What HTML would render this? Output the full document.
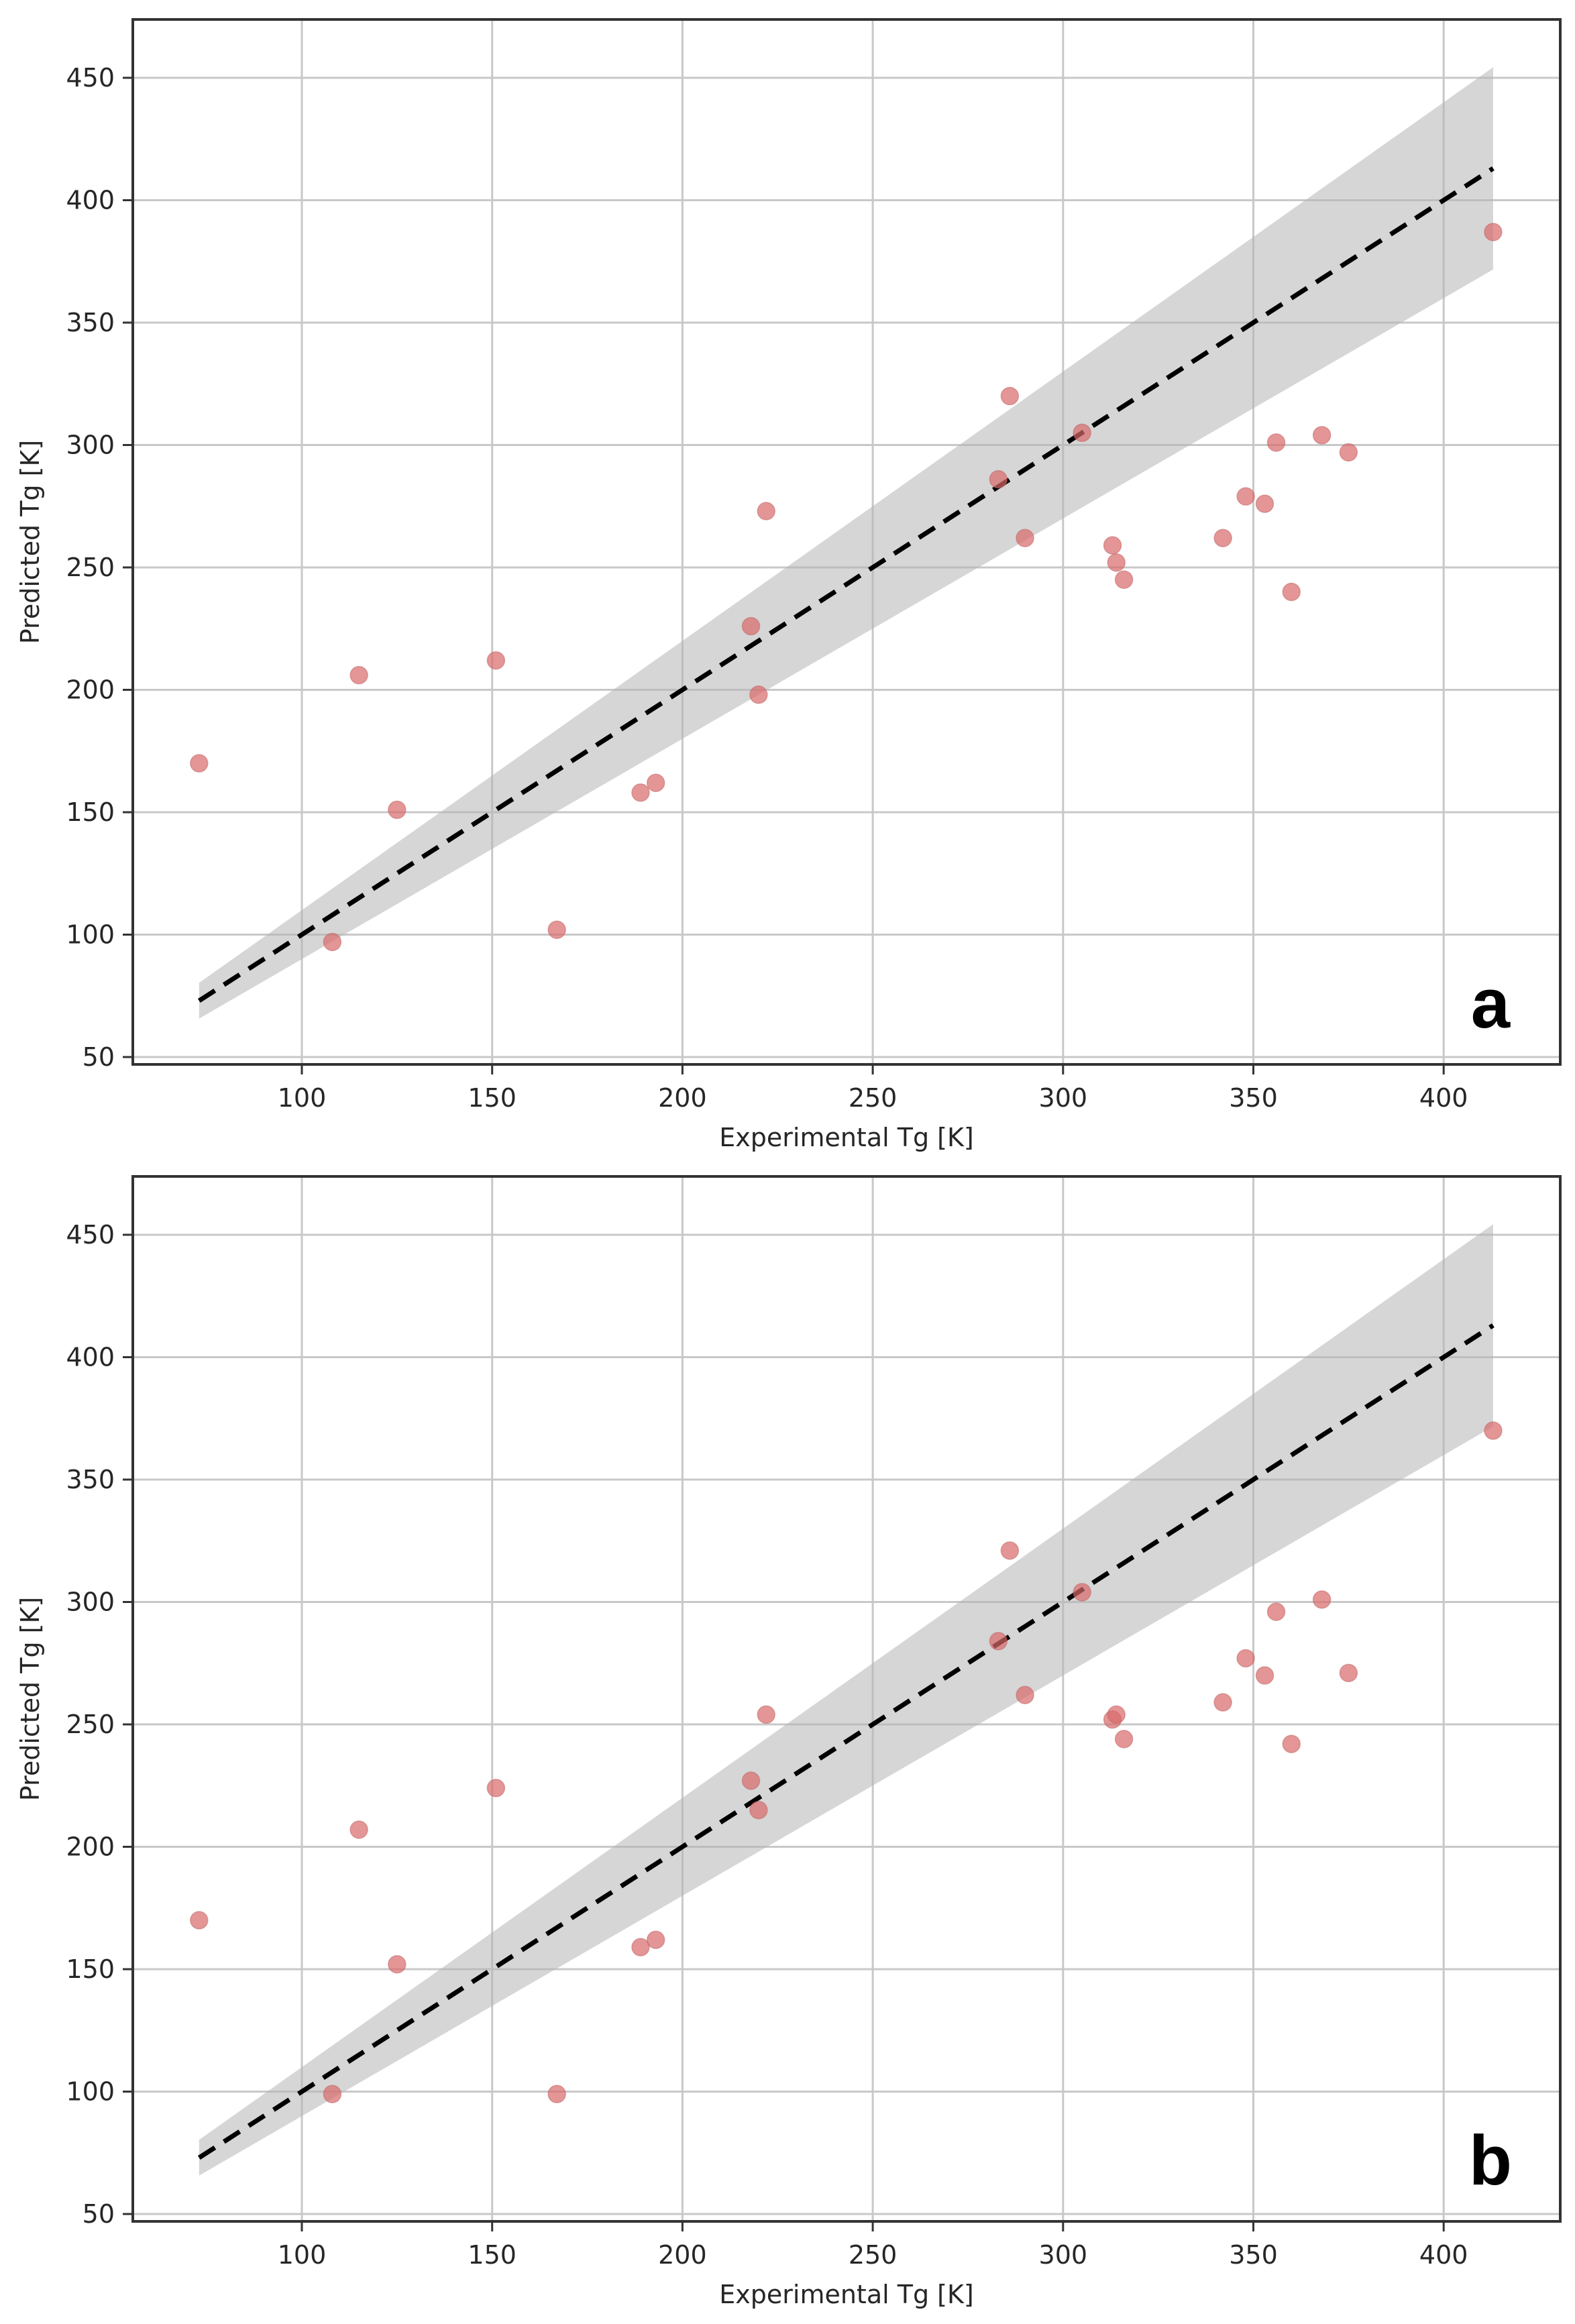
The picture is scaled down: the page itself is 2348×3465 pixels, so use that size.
<!DOCTYPE html>
<html><head><meta charset="utf-8"><style>
html,body{margin:0;padding:0;background:#fff;}
svg{display:block;font-family:"DejaVu Sans","Liberation Sans",sans-serif;}
</style></head><body>
<svg id="fig" width="2348" height="3465" viewBox="0 0 2348 3465" xmlns="http://www.w3.org/2000/svg"></svg>
<script>
const expTg = [73,108,115,125,151,167,189,193,218,220,222,283,286,290,305,313,314,316,342,348,353,356,360,368,375,413];
const predA = [170,97,206,151,212,102,158,162,226,198,273,286,320,262,305,259,252,245,262,279,276,301,240,304,297,387];
const predB = [170,99,207,152,224,99,159,162,227,215,254,284,321,262,304,252,254,244,259,277,270,296,242,301,271,370];
const xTicks = [100,150,200,250,300,350,400];
const yTicks = [50,100,150,200,250,300,350,400,450];
const lineRange = [73,413];
const bandFrac = [0.9,1.1];

const NS="http://www.w3.org/2000/svg";
const svg=document.getElementById('fig');
function mk(tag,attrs,parent){const e=document.createElementNS(NS,tag);for(const k in attrs)e.setAttribute(k,attrs[k]);(parent||svg).appendChild(e);return e;}

function panel(top,preds,letter,name){
  const L=198,R=2326,T=top,B=top+1558;
  const xs=v=>450+(v-100)*5.674;
  const ys=v=>T+87+(450-v)*3.65;
  const g=mk('g',{});
  
  
  xTicks.forEach(t=>{const l=mk('line',{x1:xs(t),x2:xs(t),y1:T,y2:B,stroke:'#c8c8c8','stroke-width':3},g);
    });
  yTicks.forEach(t=>{const l=mk('line',{x1:L,x2:R,y1:ys(t),y2:ys(t),stroke:'#c8c8c8','stroke-width':3},g);
    });
  const a=lineRange[0],b=lineRange[1];
  const band=mk('polygon',{points:`${xs(a)},${ys(a*bandFrac[1])} ${xs(b)},${ys(b*bandFrac[1])} ${xs(b)},${ys(b*bandFrac[0])} ${xs(a)},${ys(a*bandFrac[0])}`,fill:'#b4b4b4','fill-opacity':0.55},g);
  
  const ln=mk('line',{x1:xs(a),y1:ys(a),x2:xs(b),y2:ys(b),stroke:'#000','stroke-width':7,'stroke-dasharray':'28 16'},g);
  
  expTg.forEach((x,i)=>{const c=mk('circle',{cx:xs(x),cy:ys(preds[i]),r:13,fill:'#d9696b','fill-opacity':0.7,stroke:'#c06060','stroke-opacity':0.5,'stroke-width':1.5},g);
    });
  const f=mk('rect',{x:L,y:T,width:R-L,height:B-T,fill:'none',stroke:'#333','stroke-width':4},g);
  
  xTicks.forEach(t=>{mk('line',{x1:xs(t),x2:xs(t),y1:B,y2:B+15,stroke:'#333','stroke-width':3},g);
    const tx=mk('text',{x:xs(t),y:B+63,'font-size':38,'text-anchor':'middle',fill:'#262626'},g);tx.textContent=t;
    });
  yTicks.forEach(t=>{mk('line',{x1:L-15,x2:L,y1:ys(t),y2:ys(t),stroke:'#333','stroke-width':3},g);
    const tx=mk('text',{x:L-27,y:ys(t)+13,'font-size':38,'text-anchor':'end',fill:'#262626'},g);tx.textContent=t;
    });
  const xt=mk('text',{x:(L+R)/2,y:B+122,'font-size':38,'text-anchor':'middle',fill:'#262626'},g);xt.textContent='Experimental Tg [K]';
  
  const cy=(T+B)/2;
  const yt=mk('text',{x:58,y:cy,'font-size':38,'text-anchor':'middle',fill:'#262626',transform:`rotate(-90 58 ${cy})`},g);yt.textContent='Predicted Tg [K]';
  
  const pl=mk('text',{x:2222,y:B-55,'font-size':105,'font-weight':'bold','text-anchor':'middle',fill:'#000','font-family':'Liberation Sans, sans-serif'},g);pl.textContent=letter;
  
}
panel(29,predA,'a','panel-a');
panel(1754,predB,'b','panel-b');
</script>
</body></html>
